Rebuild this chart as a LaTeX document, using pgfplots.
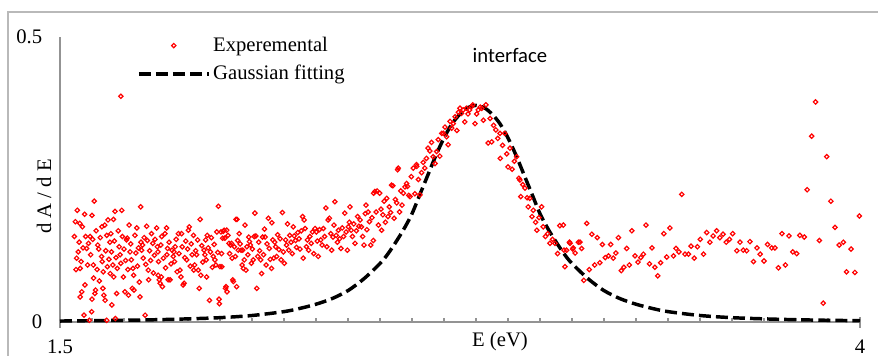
\documentclass[border=0pt]{standalone}
\usepackage{pgfplots}
\pgfplotsset{compat=1.18}
\usepackage{pgfplotstable}
\usepackage{fontspec}
\setmainfont{Liberation Serif}
\newfontfamily\calibri{Carlito}
\newcommand\myfs{\fontsize{15.5}{18}\selectfont}

\pgfplotstableread{
E y
1.545 0.150
1.548 0.176
1.550 0.092
1.552 0.112
1.554 0.196
1.557 0.123
1.560 0.140
1.562 0.173
1.563 0.094
1.563 0.044
1.566 0.106
1.568 0.053
1.570 0.167
1.572 0.130
1.575 0.012
1.577 0.189
1.578 0.065
1.580 0.150
1.583 0.129
1.586 0.100
1.589 0.138
1.592 0.003
1.594 0.150
1.596 0.118
1.599 0.018
1.600 0.187
1.600 0.040
1.602 0.145
1.604 0.100
1.605 0.077
1.607 0.212
1.609 0.050
1.611 0.056
1.613 0.160
1.616 0.092
1.618 0.135
1.621 0.128
1.623 0.072
1.626 0.148
1.630 0.115
1.631 0.167
1.632 0.106
1.634 0.059
1.635 0.088
1.637 0.047
1.640 0.170
1.641 0.038
1.643 0.125
1.646 0.003
1.646 0.152
1.648 0.097
1.650 0.179
1.653 0.110
1.656 0.140
1.657 0.085
1.659 0.155
1.661 0.123
1.662 0.030
1.665 0.100
1.667 0.180
1.668 0.079
1.670 0.142
1.672 0.194
1.673 0.006
1.675 0.113
1.677 0.050
1.679 0.094
1.682 0.160
1.685 0.132
1.688 0.118
1.690 0.396
1.690 0.103
1.693 0.196
1.695 0.150
1.698 0.079
1.700 0.128
1.703 0.053
1.705 0.108
1.708 0.144
1.710 0.147
1.712 0.092
1.714 0.047
1.716 0.170
1.719 0.123
1.721 0.137
1.723 0.109
1.726 0.059
1.728 0.094
1.730 0.082
1.731 0.056
1.734 0.152
1.737 0.121
1.740 0.165
1.742 0.098
1.745 0.130
1.748 0.070
1.750 0.044
1.752 0.202
1.753 0.140
1.755 0.126
1.758 0.135
1.760 0.112
1.763 0.148
1.766 0.012
1.768 0.101
1.771 0.168
1.773 0.143
1.776 0.091
1.777 0.074
1.780 0.125
1.783 0.108
1.786 0.155
1.790 0.138
1.792 0.086
1.795 0.117
1.797 0.145
1.802 0.165
1.804 0.132
1.806 0.123
1.807 0.082
1.808 0.106
1.810 0.074
1.813 0.068
1.815 0.135
1.817 0.079
1.818 0.150
1.820 0.062
1.823 0.112
1.828 0.155
1.830 0.095
1.833 0.165
1.834 0.118
1.836 0.129
1.838 0.074
1.841 0.140
1.844 0.074
1.847 0.102
1.850 0.126
1.854 0.115
1.856 0.123
1.858 0.106
1.860 0.132
1.863 0.145
1.866 0.088
1.870 0.155
1.872 0.120
1.875 0.091
1.878 0.079
1.880 0.155
1.882 0.132
1.885 0.065
1.888 0.068
1.890 0.113
1.893 0.142
1.896 0.109
1.899 0.128
1.901 0.161
1.904 0.167
1.907 0.098
1.910 0.137
1.913 0.118
1.917 0.152
1.918 0.091
1.921 0.100
1.924 0.125
1.927 0.118
1.930 0.144
1.932 0.091
1.935 0.059
1.938 0.180
1.940 0.082
1.943 0.134
1.946 0.105
1.950 0.126
1.953 0.118
1.955 0.144
1.957 0.109
1.958 0.079
1.960 0.152
1.963 0.130
1.967 0.038
1.970 0.123
1.973 0.148
1.976 0.096
1.979 0.115
1.982 0.136
1.984 0.109
1.987 0.100
1.990 0.158
1.993 0.122
1.995 0.203
1.997 0.040
1.998 0.032
2.000 0.097
2.003 0.158
2.005 0.120
2.006 0.097
2.008 0.147
2.010 0.159
2.013 0.161
2.015 0.147
2.017 0.059
2.019 0.062
2.021 0.161
2.022 0.053
2.025 0.152
2.028 0.138
2.030 0.120
2.033 0.135
2.036 0.138
2.038 0.112
2.040 0.074
2.042 0.071
2.045 0.132
2.048 0.115
2.050 0.180
2.052 0.062
2.053 0.180
2.055 0.143
2.057 0.126
2.060 0.155
2.063 0.137
2.066 0.126
2.069 0.100
2.071 0.126
2.073 0.094
2.076 0.109
2.078 0.170
2.081 0.091
2.084 0.132
2.087 0.118
2.090 0.149
2.092 0.141
2.095 0.135
2.098 0.103
2.101 0.128
2.104 0.109
2.107 0.150
2.109 0.191
2.112 0.151
2.115 0.059
2.118 0.115
2.121 0.140
2.124 0.125
2.127 0.109
2.130 0.085
2.133 0.149
2.136 0.118
2.139 0.163
2.141 0.149
2.144 0.100
2.147 0.137
2.151 0.182
2.154 0.129
2.157 0.110
2.161 0.094
2.162 0.174
2.165 0.144
2.168 0.112
2.171 0.140
2.174 0.132
2.177 0.115
2.180 0.153
2.184 0.127
2.188 0.146
2.191 0.109
2.195 0.192
2.198 0.123
2.201 0.103
2.205 0.144
2.208 0.135
2.211 0.172
2.215 0.126
2.218 0.152
2.222 0.140
2.226 0.120
2.229 0.167
2.232 0.151
2.236 0.143
2.239 0.131
2.243 0.157
2.247 0.146
2.250 0.128
2.254 0.160
2.258 0.185
2.260 0.112
2.263 0.179
2.266 0.164
2.270 0.132
2.273 0.144
2.277 0.126
2.281 0.150
2.285 0.138
2.289 0.158
2.293 0.120
2.297 0.164
2.301 0.158
2.304 0.142
2.307 0.115
2.311 0.162
2.315 0.144
2.319 0.135
2.323 0.164
2.327 0.150
2.331 0.200
2.334 0.132
2.338 0.179
2.342 0.182
2.346 0.155
2.349 0.126
2.353 0.149
2.356 0.170
2.359 0.211
2.363 0.152
2.367 0.140
2.370 0.161
2.374 0.146
2.378 0.129
2.382 0.165
2.386 0.150
2.390 0.191
2.394 0.158
2.398 0.126
2.401 0.167
2.404 0.175
2.406 0.202
2.410 0.161
2.414 0.150
2.418 0.172
2.422 0.138
2.426 0.160
2.430 0.185
2.434 0.168
2.438 0.179
2.442 0.167
2.446 0.150
2.450 0.135
2.454 0.190
2.456 0.205
2.459 0.162
2.463 0.193
2.467 0.176
2.471 0.135
2.475 0.183
2.479 0.143
2.480 0.226
2.484 0.229
2.488 0.193
2.491 0.230
2.495 0.170
2.499 0.226
2.503 0.198
2.505 0.161
2.509 0.188
2.513 0.212
2.517 0.175
2.521 0.217
2.525 0.185
2.529 0.202
2.533 0.192
2.536 0.240
2.540 0.239
2.544 0.182
2.548 0.215
2.552 0.209
2.555 0.267
2.557 0.270
2.561 0.193
2.565 0.230
2.569 0.205
2.573 0.226
2.578 0.237
2.583 0.243
2.586 0.238
2.590 0.222
2.594 0.220
2.598 0.255
2.604 0.270
2.609 0.225
2.614 0.276
2.615 0.273
2.620 0.250
2.625 0.223
2.630 0.262
2.635 0.280
2.640 0.270
2.645 0.287
2.650 0.305
2.656 0.300
2.661 0.315
2.666 0.290
2.672 0.278
2.677 0.299
2.682 0.320
2.687 0.291
2.693 0.331
2.698 0.331
2.703 0.342
2.708 0.325
2.713 0.311
2.719 0.352
2.724 0.340
2.729 0.348
2.735 0.360
2.740 0.336
2.745 0.368
2.750 0.375
2.755 0.366
2.760 0.372
2.765 0.351
2.770 0.375
2.775 0.365
2.780 0.372
2.786 0.378
2.790 0.381
2.797 0.348
2.802 0.365
2.807 0.372
2.813 0.377
2.818 0.375
2.823 0.354
2.831 0.381
2.838 0.314
2.844 0.357
2.849 0.316
2.855 0.345
2.862 0.337
2.868 0.322
2.875 0.331
2.876 0.287
2.883 0.310
2.890 0.331
2.896 0.295
2.900 0.272
2.906 0.305
2.913 0.268
2.920 0.282
2.927 0.290
2.934 0.252
2.937 0.249
2.940 0.220
2.946 0.241
2.953 0.235
2.960 0.218
2.963 0.202
2.968 0.217
2.975 0.185
2.979 0.196
2.986 0.175
2.990 0.161
2.997 0.183
3.005 0.202
3.010 0.167
3.017 0.150
3.024 0.155
3.031 0.138
3.039 0.145
3.047 0.138
3.055 0.120
3.062 0.169
3.073 0.170
3.075 0.126
3.078 0.097
3.083 0.126
3.092 0.140
3.094 0.138
3.102 0.128
3.104 0.130
3.110 0.121
3.120 0.140
3.125 0.140
3.130 0.129
3.137 0.073
3.146 0.173
3.154 0.092
3.162 0.154
3.171 0.100
3.179 0.148
3.187 0.104
3.195 0.136
3.204 0.113
3.214 0.116
3.221 0.136
3.229 0.112
3.237 0.121
3.245 0.148
3.254 0.090
3.262 0.096
3.271 0.129
3.279 0.100
3.287 0.160
3.297 0.116
3.306 0.105
3.315 0.113
3.323 0.119
3.331 0.170
3.342 0.102
3.350 0.130
3.359 0.096
3.368 0.081
3.377 0.104
3.387 0.155
3.396 0.114
3.406 0.165
3.417 0.116
3.425 0.129
3.434 0.123
3.443 0.224
3.453 0.119
3.464 0.119
3.472 0.133
3.482 0.112
3.492 0.132
3.501 0.145
3.511 0.119
3.521 0.157
3.531 0.140
3.541 0.151
3.552 0.160
3.562 0.148
3.572 0.154
3.582 0.140
3.592 0.145
3.602 0.155
3.615 0.125
3.625 0.140
3.635 0.126
3.646 0.125
3.656 0.141
3.667 0.106
3.678 0.130
3.688 0.119
3.700 0.107
3.711 0.136
3.724 0.130
3.734 0.130
3.745 0.095
3.756 0.155
3.767 0.100
3.778 0.151
3.790 0.123
3.802 0.120
3.812 0.152
3.826 0.149
3.835 0.232
3.849 0.326
3.861 0.386
3.873 0.143
3.885 0.033
3.896 0.290
3.909 0.212
3.922 0.166
3.935 0.135
3.948 0.140
3.958 0.088
3.972 0.128
3.984 0.087
3.998 0.186
}\expdata

\pgfplotstableread{
E y
1.50 0.0017
1.60 0.0023
1.70 0.0030
1.80 0.0040
1.90 0.0055
2.00 0.0076
2.10 0.0114
2.20 0.0182
2.25 0.0239
2.30 0.0312
2.35 0.0410
2.40 0.0551
2.45 0.0760
2.50 0.1026
2.525 0.1197
2.55 0.1406
2.575 0.1634
2.60 0.1900
2.625 0.2242
2.65 0.2584
2.675 0.2926
2.70 0.3230
2.725 0.3477
2.75 0.3648
2.775 0.3762
2.80 0.3800
2.825 0.3762
2.85 0.3648
2.875 0.3477
2.90 0.3230
2.925 0.2926
2.95 0.2584
2.975 0.2242
3.00 0.1900
3.025 0.1634
3.05 0.1406
3.075 0.1197
3.10 0.1026
3.15 0.0760
3.20 0.0551
3.25 0.0410
3.30 0.0312
3.35 0.0239
3.40 0.0182
3.50 0.0114
3.60 0.0076
3.70 0.0055
3.80 0.0040
3.90 0.0030
4.00 0.0023
}\fitdata

\begin{document}
\myfs
\begin{tikzpicture}
\useasboundingbox (-45pt,-25.5pt) rectangle (613.5pt,241.5pt);
\draw[gray!55, line width=1.3pt] (-39pt,-80pt) rectangle (720pt,232.5pt);
\begin{axis}[
  at={(0,0)}, anchor=south west,
  scale only axis, width=600pt, height=213.75pt,
  xmin=1.5, xmax=4, ymin=0, ymax=0.5,
  axis x line*=bottom, axis y line*=left,
  axis line style={gray!85, line width=0.8pt},
  xtick={1.5,4}, xticklabels={1.5,4},
  minor x tick num=24,
  tick align=inside,
  major tick length=4pt, minor tick length=3pt,
  x tick style={gray!85, line width=0.8pt},
  extra x ticks={1.5,4}, extra x tick labels={},
  extra x tick style={tick align=outside, major tick length=4.5pt},
  ytick={0,0.5}, yticklabels={0,0.5},
  y tick style={draw=none},
  tick label style={font=\myfs},
  xticklabel style={yshift=-8.3pt},
  yticklabel style={xshift=-8pt},
  label style={font=\myfs},
  xlabel={E (eV)},
  xlabel style={at={(axis description cs:0.55,0)}, anchor=north, yshift=-2.6pt},
  ylabel={d A / d E},
  ylabel style={at={(axis description cs:-0.02,0.44)}, anchor=center},
  legend style={draw=none, fill=none, font=\myfs,
    at={(axis description cs:0.091,1.02)}, anchor=north west,
    row sep=4pt, legend cell align=left},
  legend image code/.code={\draw[mark repeat=2,mark phase=2,#1] plot coordinates {(0pt,0pt)(26.25pt,0pt)(52.5pt,0pt)};},
  clip=false,
]
\addplot[only marks, mark=square, mark size=1.15pt,
  mark options={draw=red, fill=none, rotate=45, line width=0.9pt}] table[x=E,y=y] {\expdata};
\addlegendentry{Experemental}
\addplot[black, line width=2.6pt, dash pattern=on 9pt off 3.8pt, smooth] table[x=E,y=y] {\fitdata};
\addlegendentry{Gaussian fitting}
\node[font=\calibri\myfs] at (axis cs:2.906,0.468) {interface};
\end{axis}
\end{tikzpicture}
\end{document}
